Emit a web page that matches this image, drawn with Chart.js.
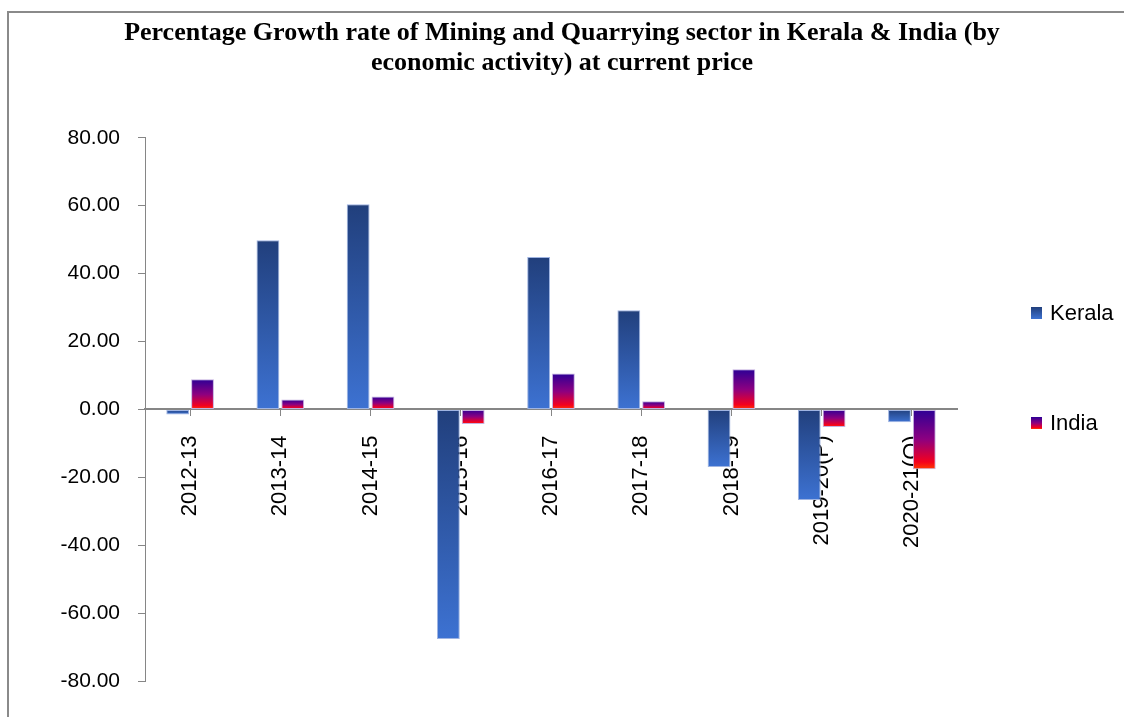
<!DOCTYPE html>
<html lang="en">
<head>
    <meta charset="UTF-8">
    <title>Percentage Growth rate of Mining and Quarrying sector</title>
    <script src="https://cdn.jsdelivr.net/npm/chart.js"></script>
    <style>
        html, body { margin: 0; padding: 0; background: #ffffff; }
        #chartContainer { width: 1124px; height: 717px; }
    </style>
</head>
<body>
    <div id="chartContainer">
        <canvas id="miningChart"></canvas>
    </div>
    <script>
        // values
        const years = ['2012-13', '2013-14', '2014-15', '2015-16', '2016-17', '2017-18', '2018-19', '2019-20(P)', '2020-21(Q)'];
        const keralaGrowth = [-1.5, 49.8, 60.4, -67.6, 44.9, 29.2, -17.0, -26.7, -3.8];
        const indiaGrowth = [8.9, 2.9, 3.8, -4.3, 10.6, 2.4, 11.8, -5.2, -17.6];
        const yMin = -80, yMax = 80, yStep = 20;

        const keralaStops = [[0, '#213f7c'], [1, '#3d72d2']];
        const indiaStops = [[0, '#2c0096'], [0.5, '#8d0080'], [0.88, '#f4001e'], [1, '#ff3a00']];

        function barGradient(context, stops) {
            const chart = context.chart;
            const yScale = chart.scales.y;
            if (!chart.chartArea || !yScale || context.raw === undefined) {
                return stops[stops.length - 1][1];
            }
            const v = context.raw;
            const top = yScale.getPixelForValue(Math.max(v, 0));
            const bottom = yScale.getPixelForValue(Math.min(v, 0));
            const g = chart.ctx.createLinearGradient(0, top, 0, bottom === top ? top + 1 : bottom);
            stops.forEach(s => g.addColorStop(s[0], s[1]));
            return g;
        }

        // outer frame + side legend
        const framePlugin = {
            id: 'frame',
            beforeDraw(chart) {
                const c = chart.ctx;
                c.save();
                c.fillStyle = '#ffffff';
                c.fillRect(0, 0, chart.width, chart.height);
                c.restore();
            },
            afterDraw(chart) {
                const c = chart.ctx;
                c.save();
                c.strokeStyle = '#8a8a8a';
                c.lineWidth = 2;
                c.strokeRect(8, 12, chart.width + 10, chart.height + 10);

                const items = [
                    { text: chart.data.datasets[0].label, stops: keralaStops, y: 313 },
                    { text: chart.data.datasets[1].label, stops: indiaStops, y: 423 }
                ];
                c.font = '22px "Liberation Sans", Arial, sans-serif';
                c.textBaseline = 'middle';
                items.forEach(it => {
                    const g = c.createLinearGradient(0, it.y - 6, 0, it.y + 6);
                    it.stops.forEach(s => g.addColorStop(s[0], s[1]));
                    c.fillStyle = g;
                    c.fillRect(1031, it.y - 6, 11, 12);
                    c.fillStyle = '#000000';
                    c.fillText(it.text, 1050, it.y + 1);
                });
                c.restore();
            }
        };

        const ctx = document.getElementById('miningChart').getContext('2d');
        new Chart(ctx, {
            type: 'bar',
            data: {
                labels: years,
                datasets: [{
                    label: 'Kerala',
                    data: keralaGrowth,
                    backgroundColor: c => barGradient(c, keralaStops),
                    borderColor: '#9fb4e2',
                    borderWidth: 1,
                    borderSkipped: false
                }, {
                    label: 'India',
                    data: indiaGrowth,
                    backgroundColor: c => barGradient(c, indiaStops),
                    borderColor: '#c4b0e0',
                    borderWidth: 1,
                    borderSkipped: false
                }]
            },
            options: {
                responsive: true,
                maintainAspectRatio: false,
                animation: false,
                datasets: {
                    bar: { categoryPercentage: 0.55, barPercentage: 0.92 }
                },
                layout: {
                    padding: { left: 0, right: 0, top: 0, bottom: 36 }
                },
                plugins: {
                    legend: { display: false },
                    tooltip: { enabled: false },
                    title: {
                        display: true,
                        text: ['Percentage Growth rate of Mining and Quarrying sector in Kerala & India (by', 'economic activity) at current price'],
                        color: '#000000',
                        font: { family: '"Liberation Serif", "Times New Roman", serif', size: 26, weight: 'bold', lineHeight: 1.15 },
                        padding: { top: 18, bottom: 60 }
                    }
                },
                scales: {
                    x: {
                        position: { y: 0 },
                        z: 1, // labels sit on top of the bars, like the original
                        offset: true,
                        grid: { display: true, offset: false, drawOnChartArea: false, drawTicks: true, tickLength: 6, color: '#868686' },
                        border: { display: true, color: '#868686', width: 2 },
                        ticks: {
                            minRotation: 90,
                            maxRotation: 90,
                            padding: 20,
                            color: '#000000',
                            font: { family: '"Liberation Sans", Arial, sans-serif', size: 22 }
                        }
                    },
                    y: {
                        min: yMin,
                        max: yMax,
                        afterFit: s => { s.width = 145; },
                        grid: { display: true, drawOnChartArea: false, drawTicks: true, tickLength: 7, color: '#868686' },
                        border: { display: true, color: '#868686', width: 1 },
                        ticks: {
                            stepSize: yStep,
                            padding: 18,
                            color: '#000000',
                            font: { family: '"Liberation Sans", Arial, sans-serif', size: 21 },
                            callback: v => v.toFixed(2)
                        }
                    },
                    // empty right-hand axis: keeps room for the legend column
                    legendSpace: {
                        axis: 'y',
                        position: 'right',
                        min: yMin,
                        max: yMax,
                        afterFit: s => { s.width = 167; },
                        grid: { display: false },
                        border: { display: false },
                        ticks: { display: false }
                    }
                }
            },
            plugins: [framePlugin]
        });
    </script>
</body>
</html>
